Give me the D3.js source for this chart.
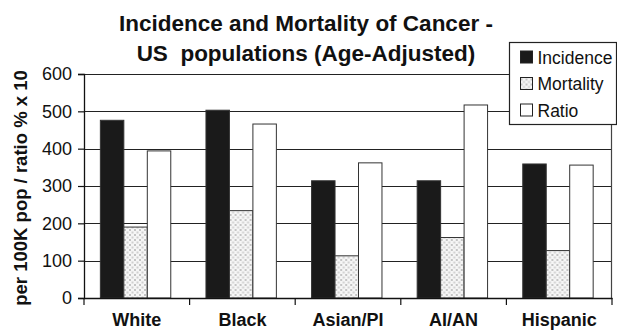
<!DOCTYPE html>
<html>
<head>
<meta charset="utf-8">
<script src="https://cdn.jsdelivr.net/npm/d3@7"></script>
<style>
  html, body { margin: 0; padding: 0; background: #fff; }
  svg { display: block; font-family: Arial, "Liberation Sans", Helvetica, sans-serif; }
</style>
</head>
<body>
<svg id="chart" width="617" height="330"></svg>
<script>
// Age-adjusted cancer rates by population group
const groups = ["White", "Black", "Asian/PI", "AI/AN", "Hispanic"];
const seriesNames = ["Incidence", "Mortality", "Ratio"];
const incidence = [476, 503, 314, 314, 359];
const mortality = [190, 234, 113, 162, 127];
const ratio = [394, 466, 362, 517, 356];
const yTicks = [0, 100, 200, 300, 400, 500, 600];
const titleLines = ["Incidence and Mortality of Cancer -", "US  populations (Age-Adjusted)"];
const yTitle = "per 100K pop / ratio % x 10";

const seriesValues = [incidence, mortality, ratio];

const svg = d3.select("#chart");
const margin = { left: 84, right: 5, top: 74, bottom: 32 };
const W = 617, H = 330;
const plotW = W - margin.left - margin.right;
const plotH = H - margin.top - margin.bottom;

// Dotted fill for the mortality bars
const defs = svg.append("defs");
const pat = defs.append("pattern")
  .attr("id", "dots")
  .attr("patternUnits", "userSpaceOnUse")
  .attr("width", 5).attr("height", 5);
pat.append("rect").attr("width", 5).attr("height", 5).attr("fill", "#f6f6f6");
pat.append("rect").attr("x", 0).attr("y", 0).attr("width", 2).attr("height", 2).attr("fill", "#c4c4c4");
pat.append("rect").attr("x", 2.5).attr("y", 2.5).attr("width", 2).attr("height", 2).attr("fill", "#cfcfcf");

const fills = ["#1a1a1a", "url(#dots)", "#ffffff"];

const x = d3.scaleBand().domain(groups).range([0, plotW]).padding(0);
const xSub = d3.scaleBand().domain(seriesNames)
  .range([x.bandwidth() * 0.155, x.bandwidth() * 0.155 + x.bandwidth() * 3 / 4.5])
  .padding(0);
const y = d3.scaleLinear().domain([0, 600]).range([plotH, 0]);

const g = svg.append("g").attr("transform", `translate(${margin.left},${margin.top})`);

// Gridlines
g.append("g").selectAll("line").data(yTicks.filter(d => d > 0)).join("line")
  .attr("x1", 0).attr("x2", plotW)
  .attr("y1", d => Math.round(y(d)) + 0.5).attr("y2", d => Math.round(y(d)) + 0.5)
  .attr("stroke", "#222").attr("stroke-width", 1.2);

// Right border of plot area
g.append("line")
  .attr("x1", plotW - 0.5).attr("x2", plotW - 0.5)
  .attr("y1", 0).attr("y2", plotH)
  .attr("stroke", "#444").attr("stroke-width", 1.2);

// Bars
const grp = g.append("g").selectAll("g").data(groups).join("g")
  .attr("transform", d => `translate(${x(d)},0)`);
grp.selectAll("rect")
  .data((d, i) => seriesNames.map((s, k) => ({ s, k, v: seriesValues[k][i] })))
  .join("rect")
  .attr("x", d => xSub(d.s))
  .attr("width", xSub.bandwidth())
  .attr("y", d => y(d.v))
  .attr("height", d => plotH - y(d.v))
  .attr("fill", d => fills[d.k])
  .attr("stroke", "#333")
  .attr("stroke-width", 1);

// Y axis
const yAxis = g.append("g")
  .call(d3.axisLeft(y).tickValues(yTicks).tickSize(6).tickPadding(6).tickFormat(d3.format("d")));
yAxis.select(".domain").attr("stroke", "#111").attr("stroke-width", 1.3);
yAxis.selectAll(".tick line").attr("stroke", "#111").attr("stroke-width", 1.2);
yAxis.selectAll("text").attr("font-size", 18).attr("fill", "#111")
  .attr("font-family", "Arial, 'Liberation Sans', sans-serif");

// X axis
const xAxis = g.append("g").attr("transform", `translate(0,${plotH})`)
  .call(d3.axisBottom(x).tickSize(0).tickPadding(15));
xAxis.select(".domain").attr("stroke", "#111").attr("stroke-width", 1.3);
xAxis.selectAll("text").attr("font-size", 18).attr("font-weight", "bold").attr("fill", "#111")
  .attr("font-family", "Arial, 'Liberation Sans', sans-serif");
// Category separators below the axis
g.append("g").selectAll("line").data(d3.range(groups.length + 1)).join("line")
  .attr("x1", i => i * x.step()).attr("x2", i => i * x.step())
  .attr("y1", plotH).attr("y2", plotH + 7)
  .attr("stroke", "#111").attr("stroke-width", 1.2);

// Title
svg.append("g").selectAll("text").data(titleLines).join("text")
  .attr("x", 306).attr("y", (d, i) => 31 + i * 30)
  .attr("text-anchor", "middle")
  .style("white-space", "pre")
  .attr("font-size", 22.5).attr("font-weight", "bold").attr("fill", "#111")
  .text(d => d);

// Y axis title
svg.append("text")
  .attr("transform", `translate(27,${188}) rotate(-90)`)
  .attr("text-anchor", "middle")
  .attr("font-size", 18.5).attr("font-weight", "bold").attr("fill", "#111")
  .text(yTitle);

// Legend
const lg = svg.append("g").attr("transform", "translate(509.5,42.5)");
lg.append("rect").attr("width", 107).attr("height", 82)
  .attr("fill", "#fff").attr("stroke", "#222").attr("stroke-width", 1.2);
const items = lg.selectAll("g").data(seriesNames).join("g")
  .attr("transform", (d, i) => `translate(11,${14.5 + i * 26.5})`);
items.append("rect").attr("x", 0).attr("y", -6).attr("width", 12).attr("height", 12)
  .attr("fill", (d, i) => fills[i]).attr("stroke", "#222").attr("stroke-width", 1);
items.append("text").attr("x", 17).attr("y", 6.5)
  .attr("font-size", 17.5).attr("fill", "#111")
  .text(d => d);
</script>
</body>
</html>
